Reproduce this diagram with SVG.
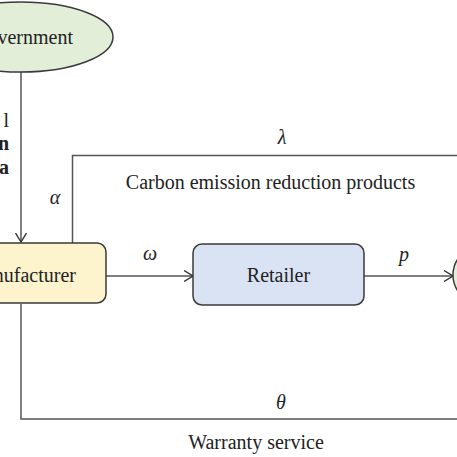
<svg xmlns="http://www.w3.org/2000/svg" width="457" height="457" viewBox="0 0 457 457">
<defs>
<style>
.t{font-family:"Liberation Serif","Times New Roman",serif;font-size:20px;fill:#222}
.m{font-family:"Liberation Serif","Times New Roman",serif;font-size:20px;font-style:italic;fill:#222}
.c{fill:none;stroke:#555;stroke-width:1.5}
.box{stroke:#3a3a3a;stroke-width:1.5}
</style>
<marker id="ah" viewBox="0 0 10 12" refX="9.5" refY="6" markerWidth="10" markerHeight="12" markerUnits="userSpaceOnUse" orient="auto">
<path d="M0.5,0.5 L9.5,6 L0.5,11.5" fill="none" stroke="#333" stroke-width="1.4"/>
</marker>
</defs>
<rect width="457" height="457" fill="#fff"/>
<g id="connectors">
<line class="c" x1="21" y1="72" x2="21" y2="242" marker-end="url(#ah)"/>
<polyline class="c" points="72.5,243 72.5,155.5 460,155.5"/>
<line class="c" x1="106" y1="276" x2="193" y2="276" marker-end="url(#ah)"/>
<line class="c" x1="364" y1="276" x2="453" y2="276" marker-end="url(#ah)"/>
<polyline class="c" points="21,304 21,419 460,419"/>
</g>
<g id="government">
<ellipse cx="21" cy="37" rx="92" ry="35" fill="#e3eed9" class="box"/>
<text class="t" x="73" y="44" text-anchor="end">Government</text>
</g>
<g id="policy-label">
<text class="t" x="9" y="127" text-anchor="end">l</text>
<text class="t" x="9" y="150" text-anchor="end" font-weight="bold">n</text>
<text class="t" x="9" y="174" text-anchor="end" font-weight="bold">a</text>
</g>
<g id="manufacturer">
<rect x="-52" y="243" width="158" height="60" rx="9" fill="#fdf3cd" class="box"/>
<text class="t" x="76" y="282" text-anchor="end">Manufacturer</text>
</g>
<g id="retailer">
<rect x="193" y="244" width="171" height="61" rx="9" fill="#dae3f3" class="box"/>
<text class="t" x="278.5" y="282" text-anchor="middle">Retailer</text>
</g>
<g id="consumer">
<ellipse cx="500" cy="275" rx="47" ry="36" fill="#e3eed9" class="box"/>
</g>
<g id="labels">
<text class="m" x="282" y="144" text-anchor="middle">λ</text>
<text class="t" x="270.5" y="189" text-anchor="middle">Carbon emission reduction products</text>
<text class="m" x="55" y="204" text-anchor="middle">α</text>
<text class="m" x="150" y="260" text-anchor="middle">ω</text>
<text class="m" x="404" y="261" text-anchor="middle">p</text>
<text class="m" x="281" y="409" text-anchor="middle">θ</text>
<text class="t" x="256" y="449" text-anchor="middle">Warranty service</text>
</g>
</svg>
